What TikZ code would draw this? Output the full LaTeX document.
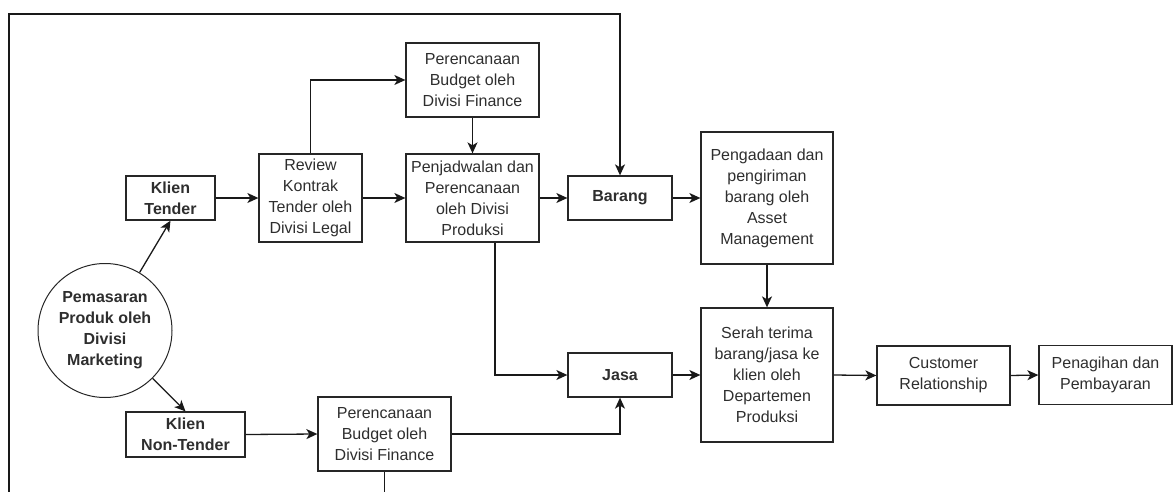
\documentclass[tikz,border=0pt]{standalone}
\usepackage{fontspec}
\setmainfont{Liberation Sans}
\usetikzlibrary{arrows.meta,calc}
\begin{document}
\begin{tikzpicture}[x=1pt,y=-1pt,
  txt/.style={font=\fontsize{16}{21}\selectfont, text=black!82, align=center},
  btxt/.style={font=\fontsize{16}{21}\selectfont\bfseries, text=black!82, align=center},
  box/.style 2 args={draw=black!85, line width=1.3pt, inner sep=0pt, minimum width=#1pt, minimum height=#2pt},
  conn/.style={draw=black!90, line width=1.3pt},
  arr/.style={conn, -{Stealth[length=11pt,width=10pt,inset=3pt]}}
]
\useasboundingbox (0,0) rectangle (1174,492);

% nodes
\node[circle, draw=black!85, line width=1pt, minimum size=134pt, inner sep=0pt, btxt] (mkt) at (105,330.5) {Pemasaran\\Produk oleh\\Divisi\\Marketing};
\node[box={89}{44}, btxt] (kt) at (170.5,198) {Klien\\Tender};
\node[box={119}{45}, btxt] (knt) at (185.5,434.5) {Klien\\Non-Tender};
\node[box={103}{88}, txt] (rev) at (310.5,198) {Review\\Kontrak\\Tender oleh\\Divisi Legal};
\node[box={133}{74}, txt] (fin1) at (472.5,80) {Perencanaan\\Budget oleh\\Divisi Finance};
\node[box={133}{88}, txt] (jad) at (472.5,198) {Penjadwalan dan\\Perencanaan\\oleh Divisi\\Produksi};
\node[box={104}{44}, btxt] (bar) at (620,198) {Barang};
\node[box={132}{132}, txt] (peng) at (767,198) {Pengadaan dan\\pengiriman\\barang oleh\\Asset\\Management};
\node[box={104}{44}, btxt] (jasa) at (620,375) {Jasa};
\node[box={132}{134}, txt] (serah) at (767,375) {Serah terima\\barang/jasa ke\\klien oleh\\Departemen\\Produksi};
\node[box={133}{59}, txt] (cust) at (943.5,375.5) {Customer\\Relationship};
\node[box={133}{59}, txt] (pen) at (1105.5,375) {Penagihan dan\\Pembayaran};
\node[box={133}{74}, txt] (fin2) at (384.5,434) {Perencanaan\\Budget oleh\\Divisi Finance};

% free coordinates
\coordinate (fb) at (9,492);
\coordinate (ft) at (9,14);
\coordinate (fin2b) at (fin2.south |- fb);
\coordinate (jadout) at ($(jad.south)+(22.5,0)$);

% connectors
\draw[arr] (mkt) -- (kt.south);
\draw[arr] (mkt) -- (knt.north);
\draw[arr] (kt.east) -- (rev.west);
\draw[arr] (rev.north) |- (fin1.west);
\draw[arr] (rev.east) -- (jad.west);
\draw[arr] (fin1.south) -- (jad.north);
\draw[arr] (jad.east) -- (bar.west);
\draw[arr] (fb) -- (ft) -| (bar.north);
\draw[arr] (bar.east) -- (peng.west);
\draw[arr] (peng.south) -- (serah.north);
\draw[arr] (jadout) |- (jasa.west);
\draw[arr] (knt.east) -- (fin2.west);
\draw[arr] (fin2.east) -| (jasa.south);
\draw[conn] (fin2.south) -- (fin2b);
\draw[arr] (jasa.east) -- (serah.west);
\draw[arr] (serah.east) -- (cust.west);
\draw[arr] (cust.east) -- (pen.west);
\end{tikzpicture}
\end{document}
